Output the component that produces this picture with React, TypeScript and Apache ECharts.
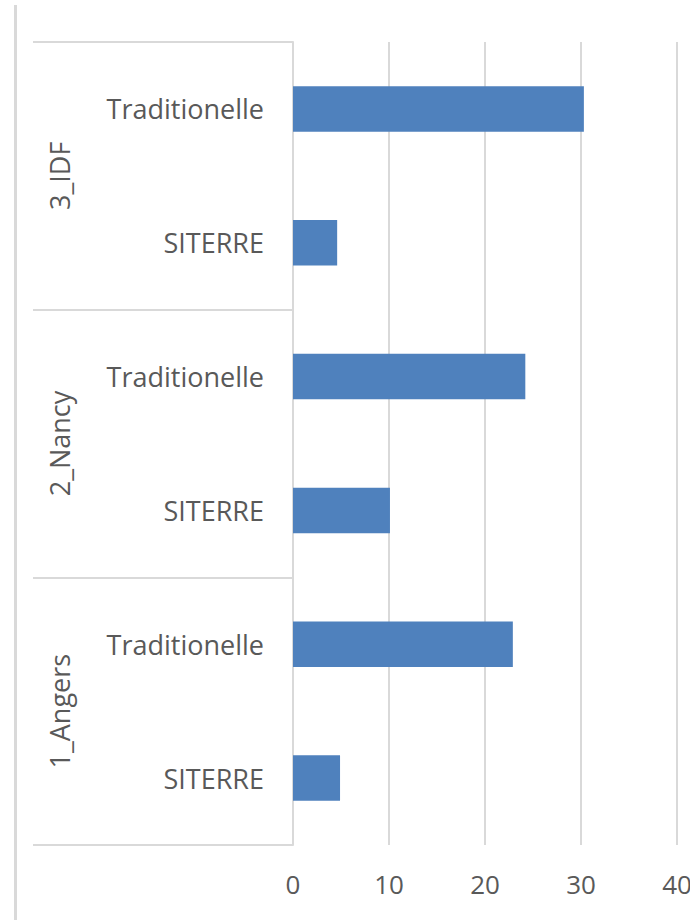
import React, { useEffect, useRef } from "react";
import * as echarts from "echarts";

const subCategories = ["SITERRE", "Traditionelle", "SITERRE", "Traditionelle", "SITERRE", "Traditionelle"];
const groupCategories = ["1_Angers", "2_Nancy", "3_IDF"];
const values = [4.9, 22.9, 10.1, 24.2, 4.6, 30.3];
const xTicks = { min: 0, max: 40, interval: 10 };

const FONT = "'Open Sans', Lato, sans-serif";
const TEXT = "#595959";
const GRID = "#d9d9d9";

export default function App() {
  const ref = useRef<HTMLDivElement>(null);
  useEffect(() => {
    if (!ref.current) return;
    const chart = echarts.init(ref.current, null, { renderer: "svg" });
    chart.setOption({
      animation: false,
      backgroundColor: "#ffffff",
      grid: { left: 293, right: 13, top: 42, bottom: 75, containLabel: false, outerBoundsMode: "none" },
      xAxis: {
        type: "value",
        min: xTicks.min,
        max: xTicks.max,
        interval: xTicks.interval,
        axisLine: { show: false },
        axisTick: { show: false },
        splitLine: { show: true, lineStyle: { color: GRID, width: 2 } },
        axisLabel: { color: TEXT, fontFamily: FONT, fontSize: 26, margin: 26, hideOverlap: false },
      },
      yAxis: [
        {
          type: "category",
          data: subCategories,
          position: "left",
          axisLine: { show: true, lineStyle: { color: GRID, width: 2 } },
          axisTick: { show: false },
          axisLabel: { color: TEXT, fontFamily: FONT, fontSize: 27, margin: 29, interval: 0 },
        },
        {
          type: "category",
          data: groupCategories,
          position: "left",
          offset: 0,
          axisLine: { show: false },
          axisTick: { show: true, length: 260, interval: 0, lineStyle: { color: GRID, width: 2 } },
          axisLabel: { color: TEXT, fontFamily: FONT, fontSize: 27, rotate: 90, margin: 220, interval: 0 },
        },
      ],
      series: [
        {
          type: "bar",
          yAxisIndex: 0,
          data: values,
          barCategoryGap: "66%",
          itemStyle: { color: "#4f81bd" },
        },
      ],
      graphic: [
        {
          type: "rect",
          shape: { x: 14, y: 5, width: 3, height: 915 },
          style: { fill: GRID },
        },
      ],
    });
    return () => chart.dispose();
  }, []);
  return <div ref={ref} style={{ position: "absolute", left: 0, top: 0, width: 690, height: 920 }} />;
}
